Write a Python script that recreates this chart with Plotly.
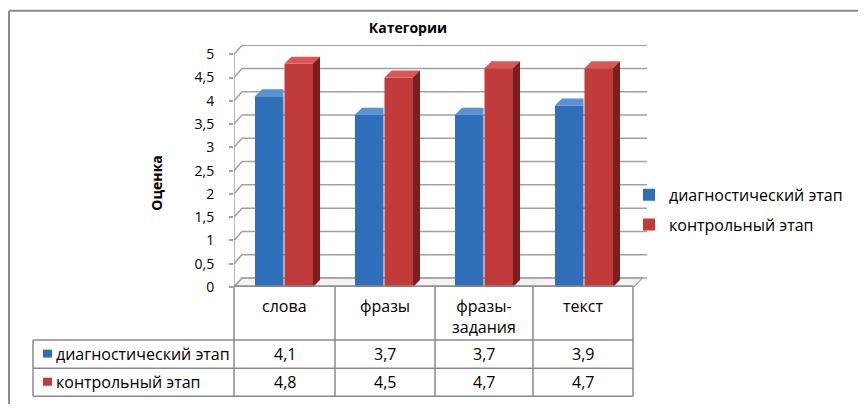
import plotly.graph_objects as go

# ---------------- data ----------------
categories = ["слова", "фразы", "фразы-<br>задания", "текст"]
series_names = ["диагностический этап", "контрольный этап"]
diag_values = [4.1, 3.7, 3.7, 3.9]
control_values = [4.8, 4.5, 4.7, 4.7]
y_tick_values = [0, 0.5, 1, 1.5, 2, 2.5, 3, 3.5, 4, 4.5, 5]
y_tick_labels = ["0", "0,5", "1", "1,5", "2", "2,5", "3", "3,5", "4", "4,5", "5"]
chart_title = "Категории"
y_title = "Оценка"

# ---------------- style ----------------
PAGE_OFF = 8                      # default body margin of the html page
SY = 1.028                        # vertical calibration of the photographed page
W, H = 866 - 2 * PAGE_OFF, 405
FONT = "Open Sans, Noto Sans, DejaVu Sans, sans-serif"
BLUE = "#2F6FBA"
BLUE_TOP = "#5A92D4"
RED = "#C23B3B"
RED_TOP = "#DA5756"
RED_SIDE = "#7A1E20"
GRID = "#A0A0A0"
TABLE_LINE = "#8A8A8A"


def fx(p):
    """target pixel x -> paper fraction"""
    return (p - PAGE_OFF) / W


def fy(p):
    """target pixel y -> paper fraction"""
    return 1 - (p * SY - PAGE_OFF) / H


def fmt(v):
    return f"{v:.1f}".replace(".", ",")


x_pos = list(range(len(categories)))
BAR_W = 0.285
offsets = [-0.29, 0.005]
colors = [BLUE, RED]

fig = go.Figure()
for name, vals, off, col in zip(series_names, [diag_values, control_values], offsets, colors):
    fig.add_trace(go.Bar(
        x=x_pos, y=vals, name=name, width=BAR_W, offset=off,
        marker=dict(color=col, line=dict(width=0)),
        legendgroup=name, hoverinfo="skip",
    ))

# 3D depth (in data units)
X0, X1 = -0.5, 3.5
GDX, GDY = 0.08, 0.194   # walls / grid depth
BDX, BDY = 0.07, 0.15    # bar depth
XR = 3.63

shapes = []
shapes.append(dict(type="path", xref="x", yref="y", layer="below",
                   path=f"M{X0},0 L{X1},0 L{X1+0.085},{GDY} L{X0+GDX},{GDY} Z",
                   fillcolor="#F4F4F4", line=dict(color=GRID, width=1.2)))
for v in y_tick_values:
    shapes.append(dict(type="path", xref="x", yref="y", layer="below",
                       path=f"M{X0},{v} L{X0+GDX},{v+GDY} L{XR},{v+GDY}",
                       line=dict(color=GRID, width=1.5)))
shapes.append(dict(type="line", xref="x", yref="y", x0=X0, x1=X0, y0=0, y1=y_tick_values[-1],
                   line=dict(color=GRID, width=1.5), layer="above"))
for i, v in enumerate(diag_values):
    xa = x_pos[i] + offsets[0]
    xb = xa + BAR_W
    shapes.append(dict(type="path", xref="x", yref="y", layer="above",
                       path=f"M{xa},{v} L{xb},{v} L{xb},{v+BDY} L{xa+BDX},{v+BDY} Z",
                       fillcolor=BLUE_TOP, line=dict(width=0)))
for i, v in enumerate(control_values):
    xa = x_pos[i] + offsets[1]
    xb = xa + BAR_W
    shapes.append(dict(type="path", xref="x", yref="y", layer="above",
                       path=f"M{xa},{v} L{xb},{v} L{xb+BDX},{v+BDY} L{xa+BDX},{v+BDY} Z",
                       fillcolor=RED_TOP, line=dict(width=0)))
    shapes.append(dict(type="path", xref="x", yref="y", layer="above",
                       path=f"M{xb},0 L{xb},{v} L{xb+BDX},{v+BDY} L{xb+BDX},{BDY} Z",
                       fillcolor=RED_SIDE, line=dict(width=0)))
# outer frame (top and left edges)
shapes.append(dict(type="line", xref="paper", yref="paper", x0=fx(9), x1=1, y0=fy(9.5), y1=fy(9.5),
                   line=dict(color="#8C8C8C", width=2)))
shapes.append(dict(type="line", xref="paper", yref="paper", x0=fx(9), x1=fx(9), y0=fy(9.5), y1=0,
                   line=dict(color="#8C8C8C", width=2)))

# ---------------- data table under the chart ----------------
col_edges = [33, 234, 335, 435, 533, 633]
row_edges = [284, 338, 366, 394]
tline = dict(color=TABLE_LINE, width=1.5)
shapes.append(dict(type="line", xref="paper", yref="paper", x0=fx(col_edges[1]), x1=fx(col_edges[-1]),
                   y0=fy(row_edges[0]), y1=fy(row_edges[0]), line=tline))
for r in row_edges[1:]:
    shapes.append(dict(type="line", xref="paper", yref="paper", x0=fx(col_edges[0]), x1=fx(col_edges[-1]),
                       y0=fy(r), y1=fy(r), line=tline))
shapes.append(dict(type="line", xref="paper", yref="paper", x0=fx(col_edges[0]), x1=fx(col_edges[0]),
                   y0=fy(row_edges[1]), y1=fy(row_edges[-1]), line=tline))
for c in col_edges[1:]:
    shapes.append(dict(type="line", xref="paper", yref="paper", x0=fx(c), x1=fx(c),
                       y0=fy(row_edges[0]), y1=fy(row_edges[-1]), line=tline))

annotations = []
TFONT = dict(family=FONT, size=16, color="#000")
LFONT = dict(family=FONT, size=16, color="#000")
for i, cat in enumerate(categories):
    cx = (col_edges[i + 1] + col_edges[i + 2]) / 2
    annotations.append(dict(text=cat, x=fx(cx), y=fy(291), xref="paper", yref="paper",
                            xanchor="center", yanchor="top", showarrow=False, font=TFONT))
for r, (name, vals, col) in enumerate(zip(series_names, [diag_values, control_values], colors)):
    cy = (row_edges[r + 1] + row_edges[r + 2]) / 2
    shapes.append(dict(type="rect", xref="paper", yref="paper",
                       x0=fx(43), x1=fx(52), y0=fy(cy - 4.5), y1=fy(cy + 3.5),
                       fillcolor=col, line=dict(width=0)))
    annotations.append(dict(text=name, x=fx(54), y=fy(cy), xref="paper", yref="paper",
                            xanchor="left", yanchor="middle", showarrow=False, font=LFONT))
    for i, v in enumerate(vals):
        cx = (col_edges[i + 1] + col_edges[i + 2]) / 2
        annotations.append(dict(text=fmt(v), x=fx(cx), y=fy(cy), xref="paper", yref="paper",
                                xanchor="center", yanchor="middle", showarrow=False, font=TFONT))
annotations.append(dict(text=f"<b>{y_title}</b>", textangle=-90, x=fx(157), y=fy(182),
                        xref="paper", yref="paper", xanchor="center", yanchor="middle",
                        showarrow=False, font=dict(size=14, family=FONT, color="#000")))

fig.update_layout(
    width=W, height=H,
    margin=dict(l=0, r=0, t=0, b=0),
    paper_bgcolor="white", plot_bgcolor="white",
    barmode="overlay",
    font=dict(family=FONT, size=14, color="#000"),
    title=dict(text=f"<b>{chart_title}</b>", x=fx(408), xanchor="center",
               y=fy(27), yanchor="middle", font=dict(size=14, family=FONT)),
    xaxis=dict(domain=[fx(234), fx(648)], range=[X0, X1 + 0.14], showgrid=False,
               zeroline=False, showticklabels=False, ticks="", showline=False),
    yaxis=dict(domain=[fy(285), fy(43.7)], range=[0, 5.2], showgrid=False, zeroline=False,
               tickvals=y_tick_values, ticktext=y_tick_labels, ticks="outside", ticklen=4,
               tickcolor=GRID, tickwidth=1.5, showline=False, ticklabelstandoff=12,
               tickfont=dict(size=14, family=FONT)),
    legend=dict(x=fx(629), y=fy(208), xanchor="left", yanchor="middle",
                font=dict(size=16, family=FONT), traceorder="grouped", tracegroupgap=6,
                itemwidth=30, bgcolor="rgba(0,0,0,0)"),
    shapes=shapes,
    annotations=annotations,
    separators=", ",
)

fig.write_html("out.html")
